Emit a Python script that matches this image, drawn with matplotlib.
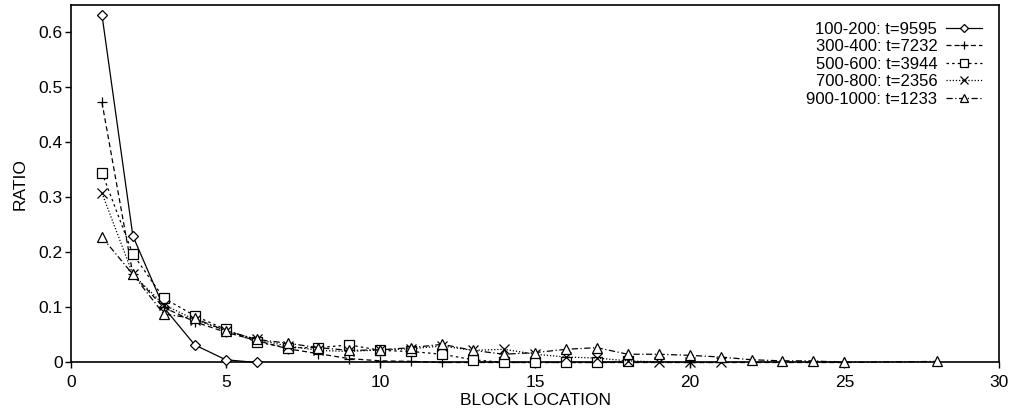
import matplotlib
matplotlib.use("Agg")
import matplotlib.pyplot as plt
from matplotlib.ticker import FuncFormatter

plt.rcParams['font.family'] = ['Liberation Sans', 'DejaVu Sans']

# Ratio of hits per block location for several size ranges
x_100 = [1, 2, 3, 4, 5, 6]
y_100 = [0.632, 0.230, 0.100, 0.032, 0.005, 0.000]

x_300 = [1, 2, 3, 4, 5, 6, 7, 8, 9, 10, 11, 12, 20, 25]
y_300 = [0.473, 0.160, 0.100, 0.074, 0.055, 0.040, 0.025, 0.016, 0.007,
         0.003, 0.002, 0.000, 0.000, 0.000]

x_500 = [1, 2, 3, 4, 5, 6, 7, 8, 9, 10, 11, 12, 13, 14, 15, 16, 17, 18]
y_500 = [0.345, 0.197, 0.117, 0.085, 0.060, 0.037, 0.027, 0.027, 0.032,
         0.022, 0.020, 0.015, 0.005, 0.000, 0.000, 0.000, 0.000, 0.002]

x_700 = [1, 2, 3, 4, 5, 6, 7, 8, 9, 10, 11, 12, 13, 14, 15, 16, 17, 18, 19, 20, 21]
y_700 = [0.308, 0.160, 0.105, 0.078, 0.058, 0.042, 0.030, 0.022, 0.020,
         0.023, 0.025, 0.030, 0.022, 0.024, 0.015, 0.010, 0.008, 0.003,
         0.001, 0.000, 0.000]

x_900 = [1, 2, 3, 4, 5, 6, 7, 8, 9, 10, 11, 12, 13, 14, 15, 16, 17, 18,
         19, 20, 21, 22, 23, 24, 25, 28]
y_900 = [0.228, 0.160, 0.088, 0.080, 0.058, 0.042, 0.035, 0.027, 0.022,
         0.023, 0.027, 0.033, 0.022, 0.015, 0.018, 0.024, 0.027, 0.015,
         0.015, 0.013, 0.010, 0.005, 0.003, 0.003, 0.000, 0.002]

labels = ["100-200: t=9595", "300-400: t=7232", "500-600: t=3944",
          "700-800: t=2356", "900-1000: t=1233"]

xticks = [0, 5, 10, 15, 20, 25, 30]
yticks = [0, 0.1, 0.2, 0.3, 0.4, 0.5, 0.6]

fig = plt.figure(figsize=(10.16, 4.09), dpi=100)
ax = fig.add_axes([0.0699, 0.1137, 0.9134, 0.8743])

series = [
    (x_100, y_100, 'D', '-', 5),
    (x_300, y_300, '+', (0, (4, 2.5)), 7.5),
    (x_500, y_500, 's', (0, (2, 2.5)), 6.5),
    (x_700, y_700, 'x', (0, (1, 1.5)), 6.5),
    (x_900, y_900, '^', (0, (5, 2, 1, 2)), 6.5),
]
for (xs, ys, mk, ls, ms), lab in zip(series, labels):
    ax.plot(xs, ys, color='black', linestyle=ls, linewidth=0.9,
            marker=mk, markersize=ms, markerfacecolor='white',
            markeredgecolor='black', markeredgewidth=0.9,
            label=lab, clip_on=False, zorder=3)

ax.set_xlim(0, 30)
ax.set_ylim(0, 0.65)
ax.set_xticks(xticks)
ax.set_yticks(yticks)
ax.yaxis.set_major_formatter(FuncFormatter(lambda v, p: "0" if v == 0 else f"{v:.1f}"))
ax.tick_params(direction='out', length=4, width=1, labelsize=12.5)
ax.tick_params(axis='x', pad=5)
ax.tick_params(axis='y', pad=2)
for s in ax.spines.values():
    s.set_linewidth(1.2)

ax.set_xlabel("BLOCK LOCATION", fontsize=12.5, labelpad=2)
ax.set_ylabel("RATIO", fontsize=12.5, labelpad=8)

ax.legend(loc='upper right', frameon=False, markerfirst=False, fontsize=12,
          handlelength=2.2, handletextpad=0.5, labelspacing=0.15,
          borderaxespad=0.6, markerscale=0.8)

fig.savefig("out.png", dpi=100)
